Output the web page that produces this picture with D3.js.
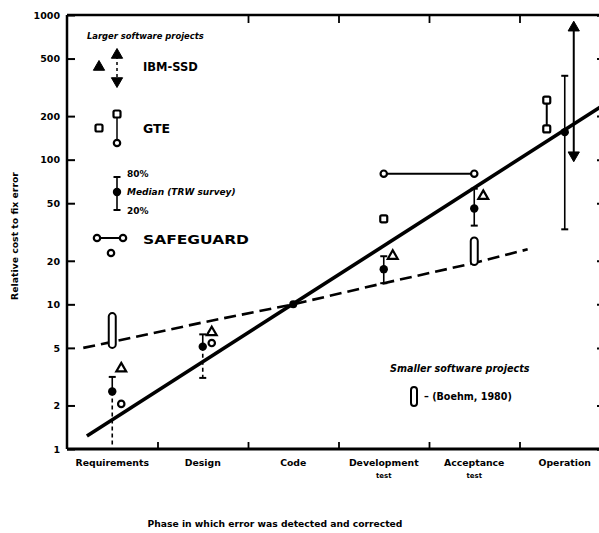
<!DOCTYPE html>
<html>
<head>
<meta charset="utf-8">
<script src="https://cdn.jsdelivr.net/npm/d3@7"></script>
<style>
  body { margin: 0; background: #fff; }
  text { font-family: "DejaVu Sans", sans-serif; font-weight: bold; fill: #000; }
</style>
</head>
<body>
<div id="wrapper"></div>
<script>
// phases along the x axis
const phases = ["Requirements", "Design", "Code", "Development\ntest", "Acceptance\ntest", "Operation"];
const yTicks = [1, 2, 5, 10, 20, 50, 100, 200, 500, 1000];

// TRW survey: median, 80% and 20%
const trwMedian = [2.5, 5.1, 10, 17.5, 46, 155];
const trwHigh = [3.15, 6.2, null, 21.5, 63, 380];
const trwLow = [1.05, 3.1, null, 14, 35, 33];

// IBM-SSD
const ibmTriangles = [3.6, 6.4, null, 21.6, 56, null];
const ibmRange = [null, null, null, null, null, [104, 830]];

// GTE
const gteCircles = [2.05, 5.4, null, null, null, null];
const gteSquares = [null, null, null, 39, null, null];
const gteRange = [null, null, null, null, null, [163, 258]];

// SAFEGUARD
const safeguard = [null, null, null, 80, 80, null];

// smaller software projects (Boehm, 1980)
const smallerProjects = [[5.0, 8.7], null, null, null, [18.7, 29], null];

// trend lines (p = phase position, v = relative cost)
const solidTrend = [{p: -0.28, v: 1.23}, {p: 5.5, v: 255}];
const dashedTrend = [
    {p: -0.32, v: 5.0}, {p: 0, v: 5.5}, {p: 1, v: 7.5}, {p: 2, v: 10},
    {p: 3, v: 14}, {p: 4, v: 19.3}, {p: 4.59, v: 24}
];

var dimension = {
    width: 599,
    height: 533,
    margin: { top: 15, left: 67, bottom: 84, right: -11 }
};
dimension.boundedWidth = dimension.width - dimension.margin.left - dimension.margin.right;
dimension.boundedHeight = dimension.height - dimension.margin.top - dimension.margin.bottom;

const svg = d3.select("#wrapper").append("svg")
    .attr("width", dimension.width)
    .attr("height", dimension.height);

const bounded = svg.append("g")
    .attr("transform", `translate(${dimension.margin.left}, ${dimension.margin.top})`);

const xScaler = d3.scaleLinear()
    .domain([-0.5, phases.length - 0.5])
    .range([0, dimension.boundedWidth]);

const yScaler = d3.scaleLog()
    .domain([1, 1000])
    .range([dimension.boundedHeight, 0]);

const W = dimension.boundedWidth, H = dimension.boundedHeight;

// frame
bounded.append("line").attr("x1", 0).attr("x2", W).attr("y1", H).attr("y2", H)
    .attr("stroke", "#000").attr("stroke-width", 3);
bounded.append("line").attr("x1", 0).attr("x2", W).attr("y1", 0).attr("y2", 0)
    .attr("stroke", "#000").attr("stroke-width", 2.5);
bounded.append("line").attr("x1", 0).attr("x2", 0).attr("y1", 0).attr("y2", H)
    .attr("stroke", "#000").attr("stroke-width", 2.5);

// y axis
const yAxis = d3.axisLeft(yScaler)
    .tickValues(yTicks)
    .tickSize(-8)
    .tickSizeOuter(0)
    .tickPadding(7)
    .tickFormat(d => d);
const yAxisG = bounded.append("g").call(yAxis);
yAxisG.select(".domain").remove();
yAxisG.selectAll(".tick line").attr("stroke-width", 2);
yAxisG.selectAll(".tick text").style("font-size", "9.5px").attr("dy", "0.35em");

// right axis ticks (frame edge is just off the picture)
const rightAxisG = bounded.append("g")
    .attr("transform", `translate(${W}, 0)`)
    .call(d3.axisRight(yScaler).tickValues(yTicks.slice(1, -1)).tickSize(-13).tickFormat(""));
rightAxisG.select(".domain").attr("stroke-width", 2.5);
rightAxisG.selectAll(".tick line").attr("stroke-width", 2);

// x ticks at phase boundaries, bottom and top
const boundaries = d3.range(0.5, phases.length - 1, 1);
const xAxisG = bounded.append("g")
    .attr("transform", `translate(0, ${H})`)
    .call(d3.axisBottom(xScaler).tickValues(boundaries).tickSize(-7).tickFormat(""));
xAxisG.select(".domain").remove();
xAxisG.selectAll(".tick line").attr("stroke-width", 1.8);

const xTopG = bounded.append("g")
    .call(d3.axisTop(xScaler).tickValues(boundaries.slice(1)).tickSize(-8).tickFormat(""));
xTopG.select(".domain").remove();
xTopG.selectAll(".tick line").attr("stroke-width", 1.8);

// phase labels
phases.forEach((p, i) => {
    const t = bounded.append("text")
        .attr("x", xScaler(i))
        .attr("y", H + 17)
        .attr("text-anchor", "middle")
        .style("font-size", "9.3px");
    p.split("\n").forEach((line, k) => {
        t.append("tspan").attr("x", xScaler(i)).attr("dy", k === 0 ? 0 : 12)
            .style("font-size", k === 0 ? "9.3px" : "7px")
            .text(line);
    });
});

// axis titles
svg.append("text")
    .attr("transform", `translate(18, 236) rotate(-90)`)
    .attr("text-anchor", "middle")
    .style("font-size", "9.3px")
    .text("Relative cost to fix error");

svg.append("text")
    .attr("x", 275)
    .attr("y", 527)
    .attr("text-anchor", "middle")
    .style("font-size", "9.2px")
    .text("Phase in which error was detected and corrected");

// trend lines
const trendLine = d3.line()
    .x(d => xScaler(d.p))
    .y(d => yScaler(d.v));

bounded.append("path")
    .attr("d", trendLine(dashedTrend))
    .attr("fill", "none")
    .attr("stroke", "#000")
    .attr("stroke-width", 2.6)
    .attr("stroke-dasharray", "12,6");

bounded.append("path")
    .attr("d", trendLine(solidTrend))
    .attr("fill", "none")
    .attr("stroke", "#000")
    .attr("stroke-width", 3.6);

// helpers for markers
function pill(g, x, lo, hi) {
    const top = yScaler(hi), bot = yScaler(lo);
    g.append("rect")
        .attr("x", x - 3.5).attr("y", top)
        .attr("width", 7).attr("height", bot - top)
        .attr("rx", 3.5)
        .attr("fill", "#fff").attr("stroke", "#000").attr("stroke-width", 2);
}
function openCircle(g, x, y) {
    g.append("circle").attr("cx", x).attr("cy", y).attr("r", 3.2)
        .attr("fill", "#fff").attr("stroke", "#000").attr("stroke-width", 2.2);
}
function square(g, x, y) {
    g.append("rect").attr("x", x - 3.5).attr("y", y - 3.5).attr("width", 7).attr("height", 7)
        .attr("rx", 1.5)
        .attr("fill", "#fff").attr("stroke", "#000").attr("stroke-width", 2.2);
}
function triangle(g, x, y, filled, rot) {
    g.append("path")
        .attr("d", d3.symbol(d3.symbolTriangle, filled ? 55 : 42)())
        .attr("transform", `translate(${x}, ${y}) rotate(${rot || 0})`)
        .attr("fill", filled ? "#000" : "#fff")
        .attr("stroke", "#000").attr("stroke-width", filled ? 1 : 2.2);
}
function dot(g, x, y, r) {
    g.append("circle").attr("cx", x).attr("cy", y).attr("r", r || 4.2).attr("fill", "#000");
}
function cap(g, x, y) {
    g.append("line").attr("x1", x - 3.5).attr("x2", x + 3.5).attr("y1", y).attr("y2", y)
        .attr("stroke", "#000").attr("stroke-width", 2);
}

const marks = bounded.append("g");

// smaller projects pills
smallerProjects.forEach((r, i) => {
    if (r) pill(marks, xScaler(i), r[0], r[1]);
});

// SAFEGUARD horizontal connection
const sgIdx = safeguard.map((v, i) => v ? i : -1).filter(i => i >= 0);
marks.append("line")
    .attr("x1", xScaler(sgIdx[0])).attr("x2", xScaler(sgIdx[sgIdx.length - 1]))
    .attr("y1", yScaler(safeguard[sgIdx[0]])).attr("y2", yScaler(safeguard[sgIdx[0]]))
    .attr("stroke", "#000").attr("stroke-width", 2);
sgIdx.forEach(i => openCircle(marks, xScaler(i), yScaler(safeguard[i])));

// TRW whiskers and medians
trwMedian.forEach((m, i) => {
    const x = xScaler(i);
    if (trwHigh[i] != null) {
        marks.append("line").attr("x1", x).attr("x2", x)
            .attr("y1", yScaler(m)).attr("y2", yScaler(trwHigh[i]))
            .attr("stroke", "#000").attr("stroke-width", 1.6);
        cap(marks, x, yScaler(trwHigh[i]));
        marks.append("line").attr("x1", x).attr("x2", x)
            .attr("y1", yScaler(m)).attr("y2", yScaler(trwLow[i]))
            .attr("stroke", "#000").attr("stroke-width", 1.6)
            .attr("stroke-dasharray", i < 2 ? "4,3" : null);
        if (i > 0) cap(marks, x, yScaler(trwLow[i]));
    }
    dot(marks, x, yScaler(m), i === 2 ? 4 : 4.2);
});

// IBM-SSD triangles and range
ibmTriangles.forEach((v, i) => {
    if (v != null) triangle(marks, xScaler(i) + 9, yScaler(v), false);
});
ibmRange.forEach((r, i) => {
    if (!r) return;
    const x = xScaler(i) + 9;
    marks.append("line").attr("x1", x).attr("x2", x)
        .attr("y1", yScaler(r[1])).attr("y2", yScaler(r[0]))
        .attr("stroke", "#000").attr("stroke-width", 2);
    triangle(marks, x, yScaler(r[1]) + 1, true, 0);
    triangle(marks, x, yScaler(r[0]) - 2, true, 180);
});

// GTE circles, squares, range
gteCircles.forEach((v, i) => {
    if (v != null) openCircle(marks, xScaler(i) + 9, yScaler(v));
});
gteSquares.forEach((v, i) => {
    if (v != null) square(marks, xScaler(i), yScaler(v));
});
gteRange.forEach((r, i) => {
    if (!r) return;
    const x = xScaler(i) - 18;
    marks.append("line").attr("x1", x).attr("x2", x)
        .attr("y1", yScaler(r[1])).attr("y2", yScaler(r[0]))
        .attr("stroke", "#000").attr("stroke-width", 2);
    square(marks, x, yScaler(r[1]));
    square(marks, x, yScaler(r[0]));
});

// legend: larger software projects
const legend = svg.append("g");
legend.append("text").attr("x", 87).attr("y", 39)
    .style("font-size", "8.4px").style("font-style", "italic")
    .text("Larger software projects");

triangle(legend, 99, 67, true, 0);
legend.append("line").attr("x1", 117).attr("x2", 117).attr("y1", 56).attr("y2", 80)
    .attr("stroke", "#000").attr("stroke-width", 1.5).attr("stroke-dasharray", "3,3");
triangle(legend, 117, 55, true, 0);
triangle(legend, 117, 81, true, 180);
legend.append("text").attr("x", 143).attr("y", 71).style("font-size", "11.5px").text("IBM-SSD");

square(legend, 99, 128);
legend.append("line").attr("x1", 117).attr("x2", 117).attr("y1", 114).attr("y2", 143)
    .attr("stroke", "#000").attr("stroke-width", 1.5);
square(legend, 117, 114);
openCircle(legend, 117, 143);
legend.append("text").attr("x", 143).attr("y", 133).style("font-size", "12.5px").text("GTE");

legend.append("line").attr("x1", 117).attr("x2", 117).attr("y1", 177).attr("y2", 210)
    .attr("stroke", "#000").attr("stroke-width", 1.6);
cap(legend, 117, 177);
cap(legend, 117, 210);
dot(legend, 117, 192);
legend.append("text").attr("x", 127).attr("y", 177).style("font-size", "9px").text("80%");
legend.append("text").attr("x", 127).attr("y", 195).style("font-size", "9px").style("font-style", "italic")
    .text("Median (TRW survey)");
legend.append("text").attr("x", 127).attr("y", 214).style("font-size", "9px").text("20%");

legend.append("line").attr("x1", 97).attr("x2", 123).attr("y1", 238).attr("y2", 238)
    .attr("stroke", "#000").attr("stroke-width", 2);
openCircle(legend, 97, 238);
openCircle(legend, 123, 238);
openCircle(legend, 111, 253);
legend.append("text").attr("x", 143).attr("y", 244).style("font-size", "11.5px")
    .attr("textLength", 106).attr("lengthAdjust", "spacingAndGlyphs").text("SAFEGUARD");

// legend: smaller software projects
legend.append("text").attr("x", 390).attr("y", 372)
    .style("font-size", "9.6px").style("font-style", "italic")
    .text("Smaller software projects");
legend.append("rect").attr("x", 411).attr("y", 387).attr("width", 6).attr("height", 19).attr("rx", 3)
    .attr("fill", "#fff").attr("stroke", "#000").attr("stroke-width", 2);
legend.append("text").attr("x", 424).attr("y", 400).style("font-size", "9.6px")
    .text("– (Boehm, 1980)");
</script>
</body>
</html>
